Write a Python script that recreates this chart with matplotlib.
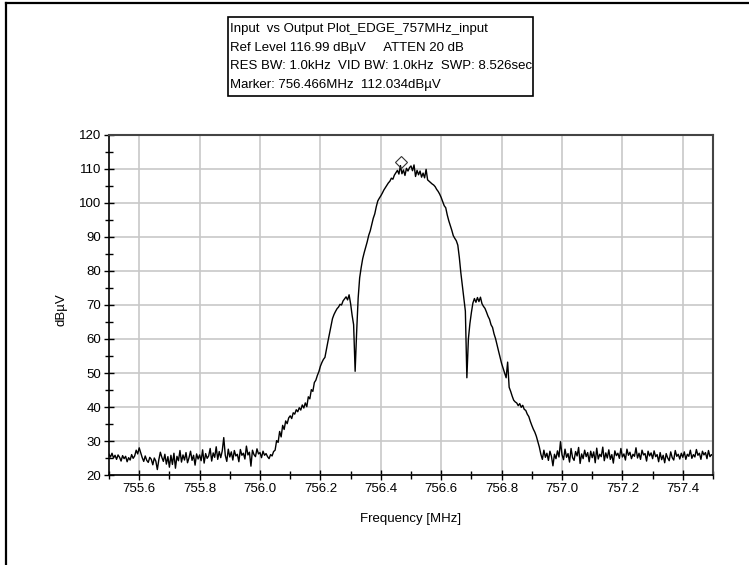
import numpy as np
import matplotlib
matplotlib.use("Agg")
import matplotlib.pyplot as plt
from matplotlib.patches import Rectangle
from matplotlib.lines import Line2D
from matplotlib.ticker import MultipleLocator, FixedLocator

plt.rcParams['font.family'] = ['Liberation Sans', 'DejaVu Sans']

# ---- data (trace, 0.005 MHz steps from 755.500 to 757.500) ----
freq_start = 755.5
freq_stop = 757.5
level_dbuv = [
    26.1, 25.3, 26.4, 25.0, 25.8, 24.6, 25.9, 25.2, 24.1, 25.7, 24.8, 25.5, 23.9, 25.1, 24.4, 26.0, 24.9, 25.6, 27.3, 26.2,
    28.0, 26.5, 25.1, 24.0, 25.6, 24.3, 23.7, 25.2, 24.6, 23.0, 25.0, 24.1, 21.6, 24.5, 26.7, 25.2, 24.0, 26.1, 23.2, 25.4,
    22.3, 25.8, 23.1, 26.4, 22.0, 25.5, 24.2, 27.2, 23.8, 25.9, 24.4, 26.6, 23.6, 25.1, 27.0, 24.3, 25.8, 22.9, 26.2, 24.7,
    25.9, 24.2, 27.4, 23.5, 26.3, 24.9, 25.6, 27.8, 24.1, 26.5, 25.2, 28.3, 24.6, 26.9, 25.1, 27.1, 31.0, 25.8, 24.0, 27.6,
    25.3, 26.8, 24.4, 27.2, 25.6, 26.1, 23.9, 27.5, 25.8, 26.4, 24.7, 28.5, 25.9, 26.7, 22.6, 27.3, 26.0, 25.4, 27.7, 26.2,
    26.6, 25.1, 27.0, 25.8, 26.3, 25.4, 24.8, 26.0, 25.6, 26.9, 27.3, 30.1, 29.6, 32.8, 31.2, 34.6, 33.4, 35.9, 35.1, 36.8,
    37.4, 36.6, 38.3, 37.9, 39.2, 38.6, 39.8, 39.1, 40.6, 39.7, 41.2, 40.1, 43.0, 42.4, 45.1, 44.6, 47.2, 47.9, 49.3, 50.4,
    52.0, 53.1, 54.0, 54.6, 57.0, 59.3, 61.5, 63.8, 66.0, 67.2, 68.1, 68.9, 69.4, 70.2, 70.0, 71.2, 71.8, 72.4, 71.5, 73.0,
    70.4, 67.0, 64.2, 50.5, 62.0, 72.0, 78.0, 81.0, 83.6, 85.4, 87.0, 88.6, 90.5, 91.8, 93.6, 95.5, 96.8, 98.9, 100.6, 101.4,
    102.1, 102.9, 103.8, 104.5, 105.2, 105.9, 106.4, 107.3, 107.0, 108.2, 108.9, 109.6, 108.5, 111.0, 108.6, 109.7, 108.1, 110.2, 109.4, 110.4,
    110.9, 109.5, 111.2, 107.8, 109.6, 108.3, 109.4, 107.6, 108.8, 107.4, 109.9, 106.8, 106.4, 106.0, 105.6, 105.3, 104.8, 104.0, 103.4, 102.6,
    101.6, 100.4, 99.2, 98.6, 96.5, 94.8, 93.4, 92.0, 90.4, 89.6, 88.9, 87.6, 84.0, 79.5, 75.8, 72.0, 68.2, 48.6, 60.0, 64.5,
    67.8, 70.6, 71.9, 70.8, 72.2, 71.0, 72.3, 70.4, 69.6, 69.0, 67.9, 66.7, 65.8, 64.2, 63.4, 61.5, 60.1, 58.2, 56.4, 54.6,
    52.8, 51.4, 50.0, 48.6, 53.2, 45.8, 44.6, 43.2, 42.0, 41.5, 41.2, 40.4, 41.0, 39.9, 40.5, 39.3, 39.0, 37.9, 37.2, 35.8,
    34.6, 33.5, 32.6, 31.4, 29.8, 28.2, 26.1, 24.6, 27.3, 25.2, 26.4, 24.3, 27.0, 25.5, 22.7, 26.1, 24.8, 27.1, 25.3, 29.8,
    26.0, 24.5, 27.6, 25.2, 26.3, 23.8, 27.8, 25.1, 24.3, 26.9, 25.6, 28.1, 23.4, 26.2, 24.8, 27.3, 25.4, 26.6, 23.9, 27.0,
    25.1, 26.8, 23.6, 27.9, 24.7, 26.1, 25.4, 28.2, 24.2, 26.5, 25.0, 27.4, 24.6, 26.0, 23.5, 27.1, 25.7, 26.4, 24.9, 27.8,
    25.3, 26.2, 24.4, 27.6, 25.8, 26.7, 24.8, 26.1, 25.5, 28.0, 25.0, 26.4, 24.6, 27.3, 25.9, 26.3, 24.1, 27.0, 25.6, 26.5,
    24.8, 27.1, 25.4, 26.0, 23.9, 26.6, 24.5, 25.8, 23.6, 26.3, 25.0, 24.2, 26.8, 25.1, 24.4, 27.2, 25.5, 26.1, 24.7, 26.4,
    25.2, 26.8, 24.6, 26.1, 25.5, 27.3, 24.9, 26.0, 25.3, 27.5, 25.8, 26.4, 24.6, 27.0, 25.9, 26.6, 24.8, 27.2, 25.4, 26.0,
    25.6,
]
freq_mhz = np.linspace(freq_start, freq_stop, len(level_dbuv))

marker_freq = 756.466
marker_level = 112.034

x_ticks = [755.6, 755.8, 756.0, 756.2, 756.4, 756.6, 756.8, 757.0, 757.2, 757.4]
x_tick_labels = ["755.6", "755.8", "756.0", "756.2", "756.4", "756.6", "756.8", "757.0", "757.2", "757.4"]
y_ticks = [20, 30, 40, 50, 60, 70, 80, 90, 100, 110, 120]

info_lines = [
    "Input  vs Output Plot_EDGE_757MHz_input",
    "Ref Level 116.99 dB\u00b5V     ATTEN 20 dB",
    "RES BW: 1.0kHz  VID BW: 1.0kHz  SWP: 8.526sec",
    "Marker: 756.466MHz  112.034dB\u00b5V",
]

# ---- figure ----
W, H = 749, 565
fig = plt.figure(figsize=(W / 100, H / 100), dpi=100)
fig.patch.set_facecolor("white")

ax = fig.add_axes([109 / W, 1 - 475 / H, (713 - 109) / W, (475 - 135) / H])
ax.plot(freq_mhz, level_dbuv, color="black", lw=1.0)
ax.plot([marker_freq], [marker_level], marker="D", ms=6, mfc="none", mec="#333333", mew=0.8, ls="none")

ax.set_xlim(freq_start, freq_stop)
ax.set_ylim(20, 120)
ax.xaxis.set_major_locator(FixedLocator(x_ticks))
ax.set_xticks(x_ticks)
ax.set_xticklabels(x_tick_labels)
ax.xaxis.set_minor_locator(MultipleLocator(0.1))
ax.set_yticks(y_ticks)
ax.yaxis.set_minor_locator(MultipleLocator(5))
ax.grid(True, which="major", color="#c8c8c8", lw=1.2)
ax.set_axisbelow(True)

ax.tick_params(which="major", direction="inout", length=7, width=1, labelsize=9.5, pad=2)
ax.tick_params(which="minor", direction="inout", length=6, width=1)
for s in ["left", "bottom"]:
    ax.spines[s].set_color("black")
    ax.spines[s].set_linewidth(1.2)
for s in ["top", "right"]:
    ax.spines[s].set_color("#444444")
    ax.spines[s].set_linewidth(1.5)

fig.text(411 / W, 1 - 519 / H, "Frequency [MHz]", ha="center", va="center", fontsize=9.5)
fig.text(62 / W, 1 - 310 / H, "dB\u00b5V", ha="center", va="center", rotation=90, fontsize=9.5)

# info box
fig.patches.append(Rectangle((228 / W, 1 - 96 / H), (533 - 228) / W, (96 - 17) / H,
                             transform=fig.transFigure, fill=False, ec="black", lw=1.2))
line_y = [29, 47.5, 66, 85]
for y, t in zip(line_y, info_lines):
    fig.text(230 / W, 1 - y / H, t, ha="left", va="center", fontsize=9.5)

# screenshot border (left and top)
fig.lines.append(Line2D([6 / W, 6 / W], [0, 1 - 3 / H], transform=fig.transFigure, color="black", lw=1.6))
fig.lines.append(Line2D([6 / W, 1], [1 - 3 / H, 1 - 3 / H], transform=fig.transFigure, color="black", lw=1.6))

fig.savefig("out.png", dpi=100)
